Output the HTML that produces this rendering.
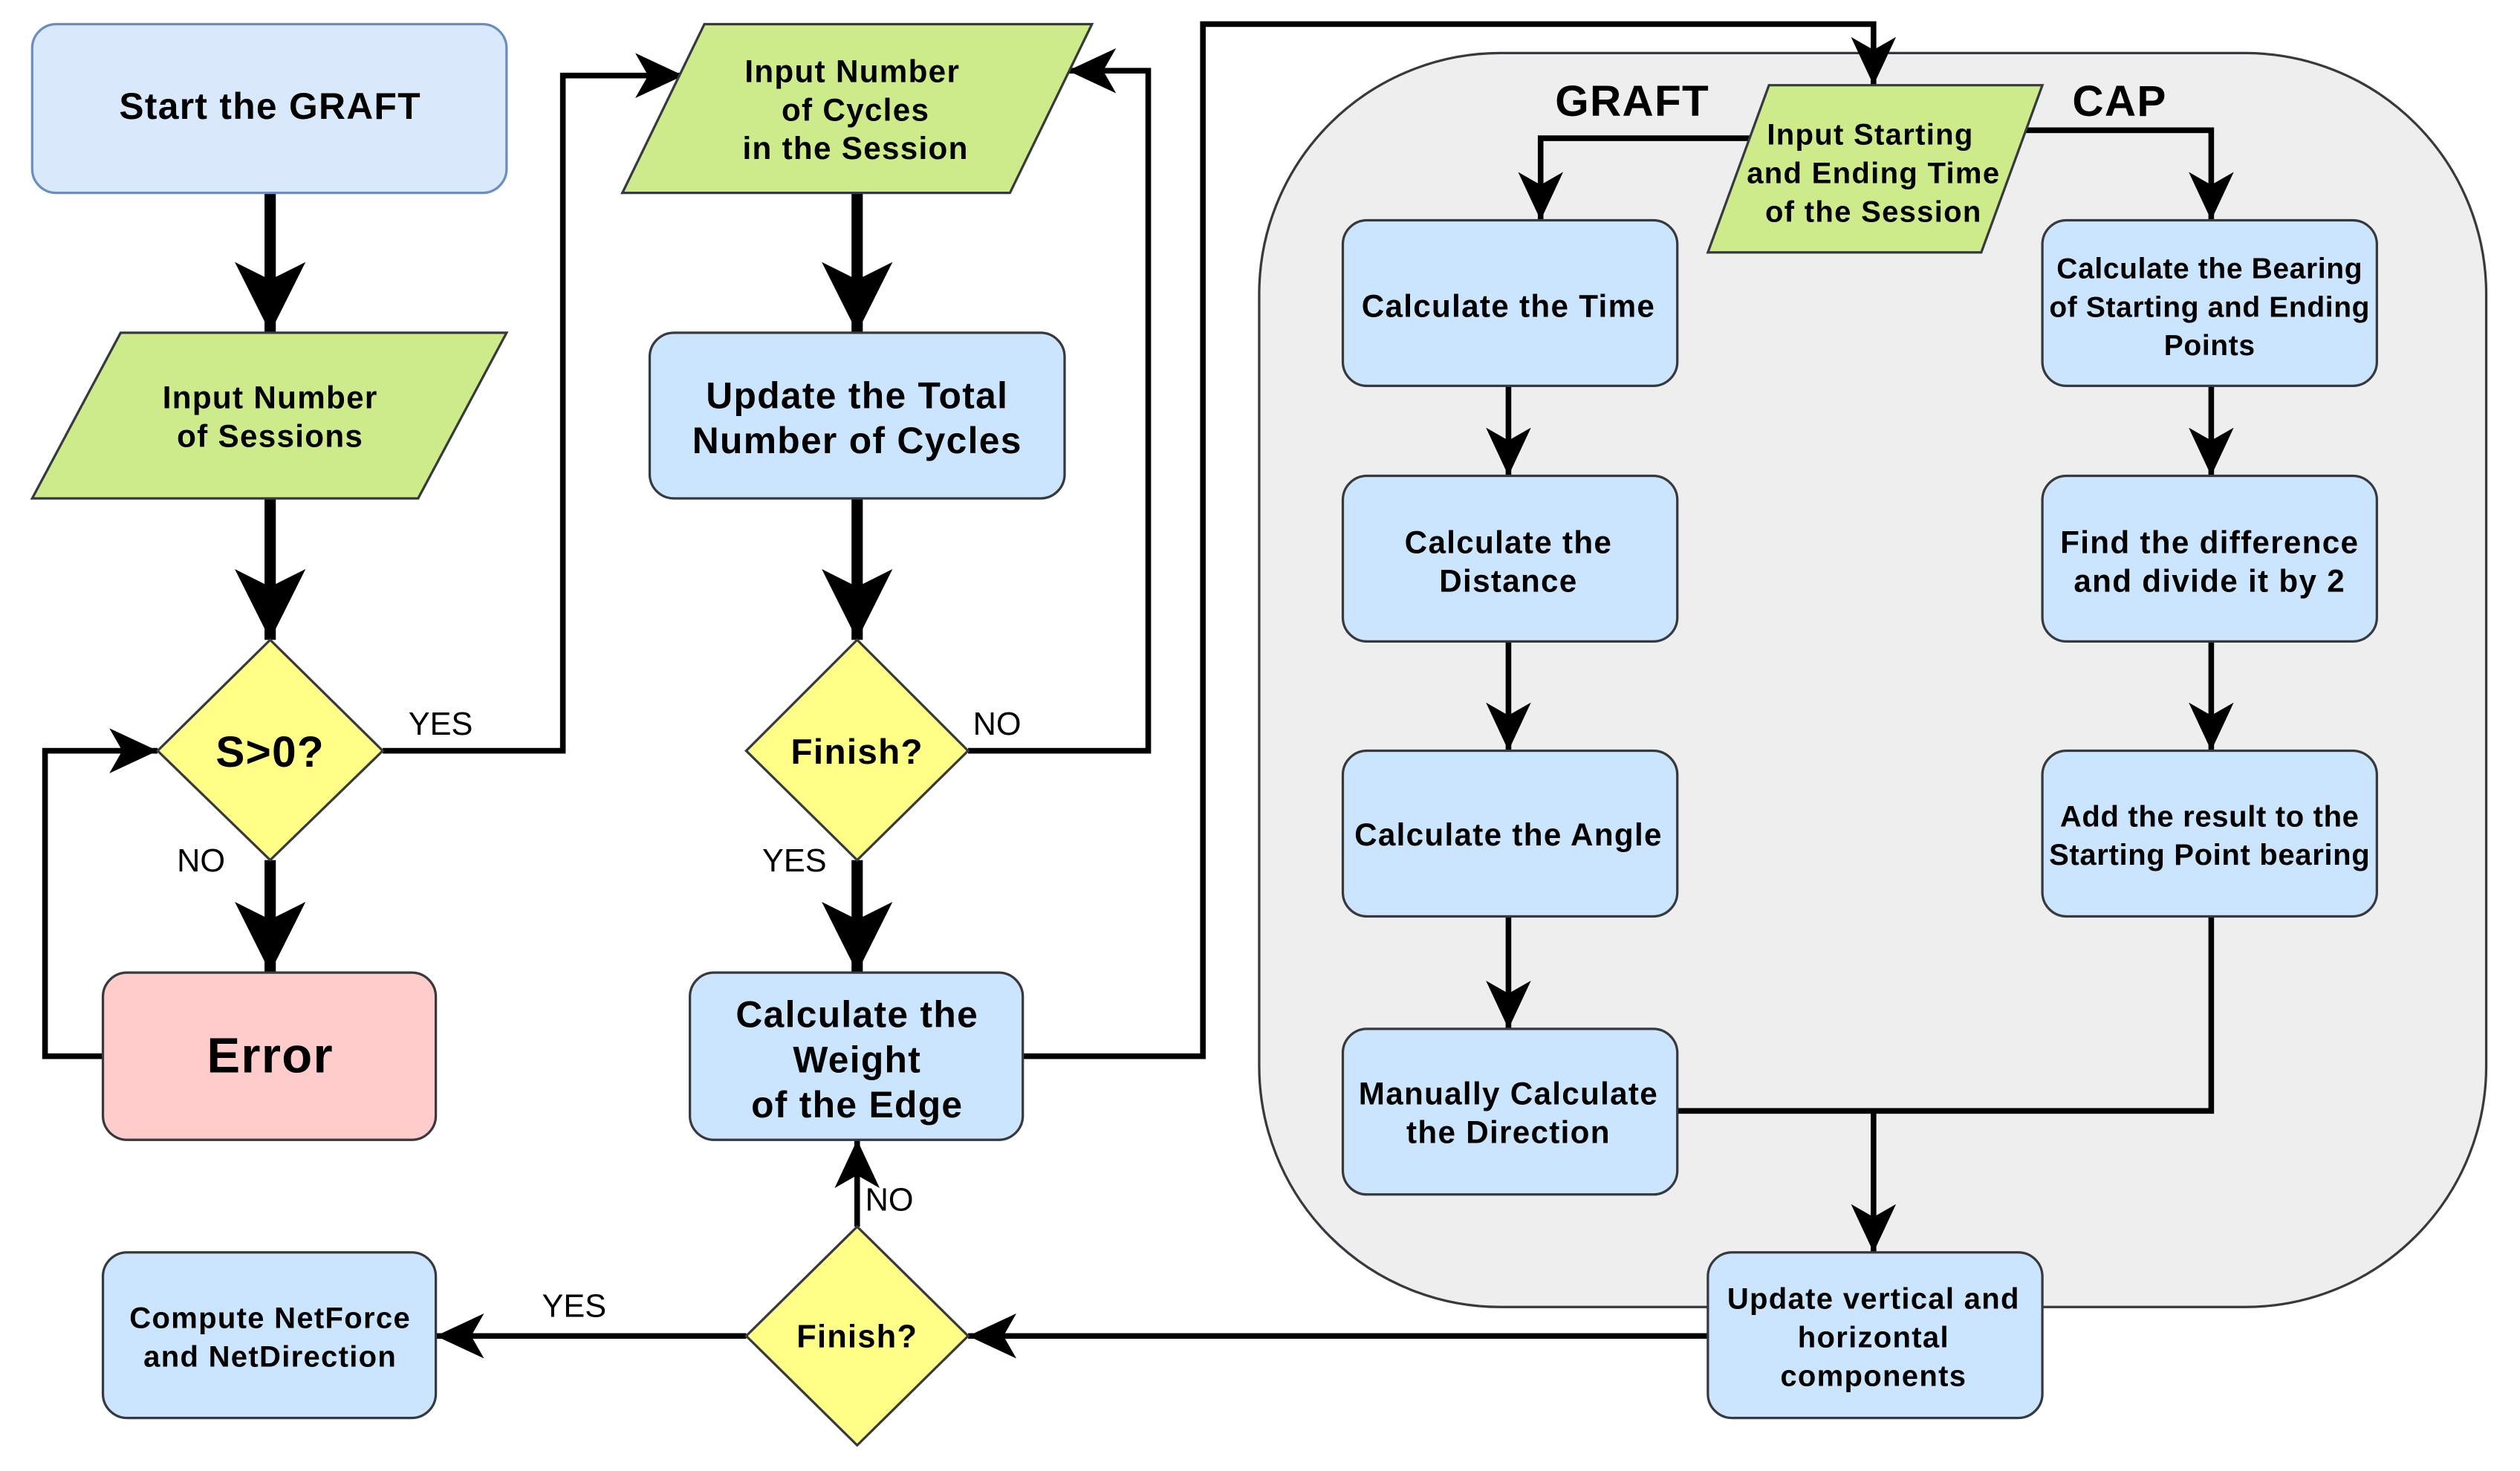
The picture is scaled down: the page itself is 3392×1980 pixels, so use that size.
<!DOCTYPE html>
<html><head><meta charset="utf-8"><style>
html,body{margin:0;padding:0;background:#fff;}
svg{display:block;}
text{font-family:"Liberation Sans",Arial,sans-serif;font-weight:bold;fill:#000;text-anchor:middle;letter-spacing:0.6px;}
.r{font-weight:normal;letter-spacing:0;}
</style></head><body>
<svg width="3392" height="1980" viewBox="0 0 1567 915" preserveAspectRatio="none" xmlns="http://www.w3.org/2000/svg">
<defs>
<marker id="big" markerUnits="userSpaceOnUse" viewBox="0 0 44 44" refX="44" refY="22" markerWidth="44" markerHeight="44" orient="auto"><path d="M0,0 L44,22 L0,44 L11,22 Z" fill="#000"/></marker>
<marker id="sm" markerUnits="userSpaceOnUse" viewBox="0 0 30 28" refX="30" refY="14" markerWidth="30" markerHeight="28" orient="auto"><path d="M0,0 L30,14 L0,28 L8,14 Z" fill="#000"/></marker>
</defs>
<rect x="783" y="33" width="763" height="780" rx="150" ry="150" fill="#eeeeee" stroke="#36393d" stroke-width="1.5"/>

<g stroke="#000" stroke-width="7" fill="none">
<line x1="168" y1="120" x2="168" y2="207" marker-end="url(#big)"/>
<line x1="168" y1="310" x2="168" y2="398" marker-end="url(#big)"/>
<line x1="168" y1="535" x2="168" y2="605" marker-end="url(#big)"/>
<line x1="533" y1="120" x2="533" y2="207" marker-end="url(#big)"/>
<line x1="533" y1="310" x2="533" y2="398" marker-end="url(#big)"/>
<line x1="533" y1="535" x2="533" y2="605" marker-end="url(#big)"/>
</g>
<g stroke="#000" stroke-width="3.5" fill="none">
<polyline points="64,657 28,657 28,467 98,467" marker-end="url(#sm)"/>
<polyline points="238,467 350,467 350,47 425,47" marker-end="url(#sm)"/>
<polyline points="602,467 714,467 714,44 664,44" marker-end="url(#sm)"/>
<polyline points="636,657 748,657 748,15 1165,15 1165,53" marker-end="url(#sm)"/>
<polyline points="1090,86 958,86 958,137" marker-end="url(#sm)"/>
<polyline points="1255,81 1375,81 1375,137" marker-end="url(#sm)"/>
<line x1="938" y1="240" x2="938" y2="296" marker-end="url(#sm)"/>
<line x1="938" y1="399" x2="938" y2="467" marker-end="url(#sm)"/>
<line x1="938" y1="570" x2="938" y2="640" marker-end="url(#sm)"/>
<line x1="1375" y1="240" x2="1375" y2="296" marker-end="url(#sm)"/>
<line x1="1375" y1="399" x2="1375" y2="467" marker-end="url(#sm)"/>
<polyline points="1375,570 1375,691 1043,691"/>
<line x1="1165" y1="691" x2="1165" y2="779" marker-end="url(#sm)"/>
<line x1="1062" y1="831" x2="602" y2="831" marker-end="url(#sm)"/>
<line x1="464" y1="831" x2="271" y2="831" marker-end="url(#sm)"/>
<line x1="533" y1="763" x2="533" y2="709" marker-end="url(#sm)"/>
</g>

<g stroke-width="1.5">
<rect x="20" y="15" width="295" height="105" rx="15" fill="#dae8fc" stroke="#6c8ebf"/>
<polygon points="75,207 315,207 260,310 20,310" fill="#cdeb8b" stroke="#36393d"/>
<polygon points="168,398 238,467 168,535 98,467" fill="#ffff88" stroke="#36393d"/>
<rect x="64" y="605" width="207" height="104" rx="15" fill="#ffcccc" stroke="#36393d"/>
<polygon points="438,15 679,15 628,120 387,120" fill="#cdeb8b" stroke="#36393d"/>
<rect x="404" y="207" width="258" height="103" rx="15" fill="#cce5ff" stroke="#36393d"/>
<polygon points="533,398 602,467 533,535 464,467" fill="#ffff88" stroke="#36393d"/>
<rect x="429" y="605" width="207" height="104" rx="15" fill="#cce5ff" stroke="#36393d"/>
<polygon points="533,763 602,831 533,899 464,831" fill="#ffff88" stroke="#36393d"/>
<rect x="64" y="779" width="207" height="103" rx="15" fill="#cce5ff" stroke="#36393d"/>
<polygon points="1100,53 1270,53 1232,157 1062,157" fill="#cdeb8b" stroke="#36393d"/>
<rect x="835" y="137" width="208" height="103" rx="15" fill="#cce5ff" stroke="#36393d"/>
<rect x="835" y="296" width="208" height="103" rx="15" fill="#cce5ff" stroke="#36393d"/>
<rect x="835" y="467" width="208" height="103" rx="15" fill="#cce5ff" stroke="#36393d"/>
<rect x="835" y="640" width="208" height="103" rx="15" fill="#cce5ff" stroke="#36393d"/>
<rect x="1270" y="137" width="208" height="103" rx="15" fill="#cce5ff" stroke="#36393d"/>
<rect x="1270" y="296" width="208" height="103" rx="15" fill="#cce5ff" stroke="#36393d"/>
<rect x="1270" y="467" width="208" height="103" rx="15" fill="#cce5ff" stroke="#36393d"/>
<rect x="1062" y="779" width="208" height="103" rx="15" fill="#cce5ff" stroke="#36393d"/>
</g>

<text x="168" y="74" font-size="23">Start the GRAFT</text>
<text x="168" y="254" font-size="19.5">Input Number</text>
<text x="168" y="278" font-size="19.5">of Sessions</text>
<text x="168" y="477" font-size="27">S&gt;0?</text>
<text x="168" y="667" font-size="31">Error</text>
<text x="530" y="51" font-size="19.5">Input Number</text>
<text x="532" y="75" font-size="19.5">of Cycles</text>
<text x="532" y="99" font-size="19.5">in the Session</text>
<text x="533" y="254" font-size="23">Update the Total</text>
<text x="533" y="282" font-size="23">Number of Cycles</text>
<text x="533" y="475" font-size="22">Finish?</text>
<text x="533" y="639" font-size="23">Calculate the</text>
<text x="533" y="667" font-size="23">Weight</text>
<text x="533" y="695" font-size="23">of the Edge</text>
<text x="533" y="838" font-size="20">Finish?</text>
<text x="168" y="826" font-size="18.5">Compute NetForce</text>
<text x="168" y="850" font-size="18.5">and NetDirection</text>
<text x="1015" y="72" font-size="27">GRAFT</text>
<text x="1318" y="72" font-size="27">CAP</text>
<text x="1163" y="90" font-size="18.5">Input Starting</text>
<text x="1165" y="114" font-size="18.5">and Ending Time</text>
<text x="1165" y="138" font-size="18.5">of the Session</text>
<text x="938" y="197" font-size="19.5">Calculate the Time</text>
<text x="938" y="344" font-size="19.5">Calculate the</text>
<text x="938" y="368" font-size="19.5">Distance</text>
<text x="938" y="526" font-size="19.5">Calculate the Angle</text>
<text x="938" y="687" font-size="19.5">Manually Calculate</text>
<text x="938" y="711" font-size="19.5">the Direction</text>
<text x="1374" y="173" font-size="18" style="letter-spacing:0.3px">Calculate the Bearing</text>
<text x="1374" y="197" font-size="18" style="letter-spacing:0.3px">of Starting and Ending</text>
<text x="1374" y="221" font-size="18" style="letter-spacing:0.3px">Points</text>
<text x="1374" y="344" font-size="19.5">Find the difference</text>
<text x="1374" y="368" font-size="19.5">and divide it by 2</text>
<text x="1374" y="514" font-size="18.5" style="letter-spacing:0.3px">Add the result to the</text>
<text x="1374" y="538" font-size="18.5" style="letter-spacing:0.3px">Starting Point bearing</text>
<text x="1165" y="814" font-size="18.5">Update vertical and</text>
<text x="1165" y="838" font-size="18.5">horizontal</text>
<text x="1165" y="862" font-size="18.5">components</text>
<text class="r" x="274" y="457" font-size="20">YES</text>
<text class="r" x="125" y="542" font-size="20">NO</text>
<text class="r" x="620" y="457" font-size="20">NO</text>
<text class="r" x="494" y="542" font-size="20">YES</text>
<text class="r" x="553" y="753" font-size="20">NO</text>
<text class="r" x="357" y="819" font-size="20">YES</text>
</svg>
</body></html>
